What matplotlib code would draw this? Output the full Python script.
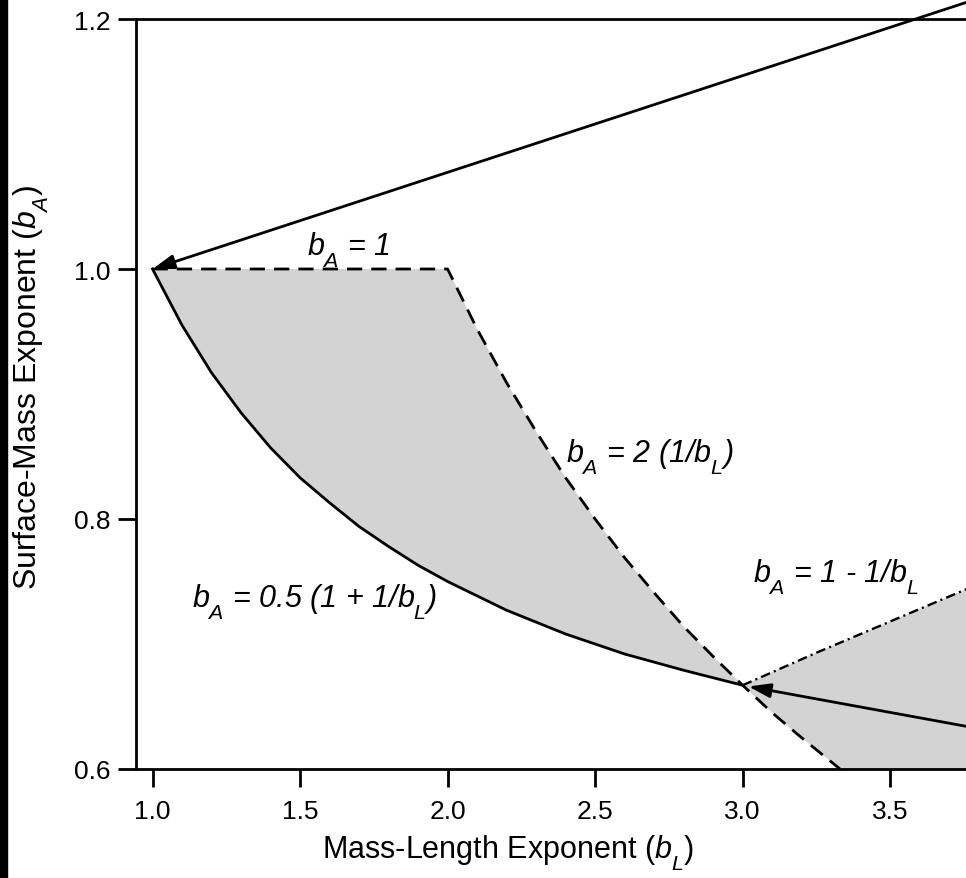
import matplotlib
matplotlib.use("Agg")
import matplotlib.pyplot as plt
from matplotlib.patches import Rectangle

plt.rcParams['font.family'] = ['Liberation Sans', 'DejaVu Sans']
plt.rcParams['mathtext.fontset'] = 'custom'
plt.rcParams['mathtext.it'] = 'Liberation Sans:italic'
plt.rcParams['mathtext.rm'] = 'Liberation Sans'
plt.rcParams['lines.scale_dashes'] = False
# deeper subscripts, like the original figure
try:
    import matplotlib._mathtext as _mt
    _mt.FontConstantsBase.sub1 = 0.75
    _mt.FontConstantsBase.sub2 = 0.9
except Exception:
    pass

# curves
# b_A = 0.5 (1 + 1/b_L), solid
solid_x = [1.0, 1.1, 1.2, 1.3, 1.4, 1.5, 1.6, 1.7, 1.8, 1.9, 2.0, 2.2, 2.4, 2.6, 2.8, 3.0]
solid_y = [1.000, 0.955, 0.917, 0.885, 0.857, 0.833, 0.813, 0.794, 0.778, 0.763,
           0.750, 0.727, 0.708, 0.692, 0.679, 0.667]
# b_A = 1 then b_A = 2/b_L, dashed
dash_x = [1.0, 2.0, 2.1, 2.2, 2.3, 2.4, 2.5, 2.6, 2.7, 2.8, 2.9, 3.0, 3.1, 3.2, 3.33]
dash_y = [1.0, 1.0, 0.952, 0.909, 0.870, 0.833, 0.800, 0.769, 0.741, 0.714, 0.690,
          0.667, 0.645, 0.625, 0.600]
# b_A = 1 - 1/b_L, dash-dot
dashdot_x = [3.0, 3.25, 3.5, 3.76, 3.9]
dashdot_y = [0.667, 0.693, 0.718, 0.744, 0.757]
# arrows: (tail, head)
arrow_top = [(4.0, 1.232), (1.0, 1.0)]
arrow_low = [(3.9, 0.628), (3.02, 0.666)]

xticks = [1.0, 1.5, 2.0, 2.5, 3.0, 3.5]
yticks = [0.6, 0.8, 1.0, 1.2]

fig = plt.figure(figsize=(9.66, 8.79), dpi=100)
ax = fig.add_axes([136/966, 1-770/879, 830/966, 750/879])

gray = '#d3d3d3'
# shaded region 1 (between dashed top and solid bottom, b_L 1..3)
top1 = [(x, y) for x, y in zip(dash_x, dash_y) if x <= 3.0]
bot1 = list(zip(solid_x, solid_y))[::-1]
poly1 = top1 + bot1
ax.fill([p[0] for p in poly1], [p[1] for p in poly1], color=gray, lw=0, zorder=1)
# shaded region 2 (right of b_L = 3)
top2 = list(zip(dashdot_x, dashdot_y))
bot2 = [(x, y) for x, y in zip(dash_x, dash_y) if x >= 3.0][::-1]
poly2 = top2 + [(dashdot_x[-1], dash_y[-1])] + bot2
ax.fill([p[0] for p in poly2], [p[1] for p in poly2], color=gray, lw=0, zorder=1)

lw = 2.0
ax.plot(solid_x, solid_y, color='black', lw=lw, zorder=3)
ax.plot(dash_x, dash_y, color='black', lw=lw, dashes=(11, 6.5), zorder=3)
ax.plot(dashdot_x, dashdot_y, color='black', lw=1.7, dashes=(7, 3, 1.5, 3), zorder=3)

for tail, head in [arrow_top, arrow_low]:
    ax.annotate('', xy=head, xytext=tail,
                arrowprops=dict(arrowstyle='-|>,head_length=0.55,head_width=0.18',
                                lw=lw, color='black',
                                mutation_scale=24, shrinkA=0, shrinkB=0),
                annotation_clip=False, zorder=4)

fs = 22
ax.text(1.525, 1.012, '$b_A$ = 1', fontsize=fs, style='italic')
ax.text(2.40, 0.846, '$b_A$ = 2 (1/$b_L$)', fontsize=fs, style='italic')
ax.text(1.135, 0.730, '$b_A$ = 0.5 (1 + 1/$b_L$)', fontsize=fs, style='italic')
ax.text(3.035, 0.750, '$b_A$ = 1 - 1/$b_L$', fontsize=fs, style='italic')

ax.set_xlim(0.944, 3.757)
ax.set_ylim(0.6, 1.2)
ax.set_xticks(xticks)
ax.set_xticklabels(['%.1f' % t for t in xticks])
ax.set_yticks(yticks)
ax.set_yticklabels(['%.1f' % t for t in yticks])
ax.spines['right'].set_visible(False)
for s in ['left', 'bottom', 'top']:
    ax.spines[s].set_linewidth(lw)
ax.tick_params(axis='x', length=13, width=lw, pad=8.5, labelsize=19, top=False)
ax.tick_params(axis='y', length=13, width=lw, pad=5.5, labelsize=19)

ax.set_xlabel('Mass-Length Exponent ($b_L$)', fontsize=22)
ax.xaxis.set_label_coords(0.448, -0.085)
ax.set_ylabel('Surface-Mass Exponent ($b_A$)', fontsize=23)
ax.yaxis.set_label_coords(-0.102, 0.51)

# black strip at the left edge of the scan
fig.patches.append(Rectangle((0, 0), 7/966, 1, transform=fig.transFigure,
                             color='black', zorder=10))

fig.savefig('out.png', dpi=100)
